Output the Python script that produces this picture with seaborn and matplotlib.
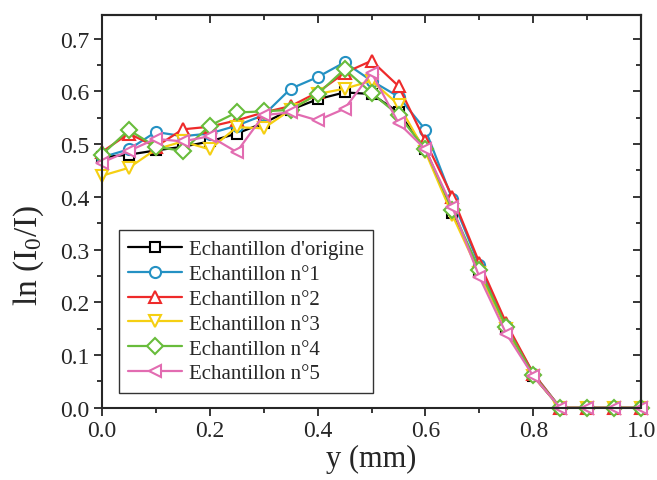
import numpy as np
import pandas as pd
import matplotlib
matplotlib.use('Agg')
import matplotlib.pyplot as plt
import seaborn as sns

# Position y (mm)
y_mm = [0.0, 0.05, 0.1, 0.15, 0.2, 0.25, 0.3, 0.35, 0.4, 0.45, 0.5,
        0.55, 0.6, 0.65, 0.7, 0.75, 0.8, 0.85, 0.9, 0.95, 1.0]

# ln(I0/I) for each sample
origine = [0.475, 0.480, 0.488, 0.495, 0.505, 0.520, 0.540, 0.565, 0.585, 0.598, 0.595,
           0.560, 0.490, 0.370, 0.260, 0.150, 0.060, 0.0, 0.0, 0.0, 0.0]
n1 = [0.475, 0.490, 0.523, 0.515, 0.520, 0.535, 0.555, 0.605, 0.627, 0.655, 0.620,
      0.590, 0.527, 0.395, 0.270, 0.155, 0.065, 0.0, 0.0, 0.0, 0.0]
n2 = [0.485, 0.520, 0.495, 0.528, 0.533, 0.545, 0.560, 0.572, 0.598, 0.635, 0.658,
      0.610, 0.505, 0.400, 0.275, 0.160, 0.065, 0.0, 0.0, 0.0, 0.0]
n3 = [0.440, 0.455, 0.490, 0.505, 0.490, 0.532, 0.530, 0.565, 0.595, 0.605, 0.620,
      0.575, 0.485, 0.365, 0.255, 0.150, 0.060, 0.0, 0.0, 0.0, 0.0]
n4 = [0.480, 0.527, 0.495, 0.487, 0.535, 0.560, 0.562, 0.565, 0.595, 0.642, 0.597,
      0.555, 0.490, 0.375, 0.262, 0.153, 0.062, 0.0, 0.0, 0.0, 0.0]
n5 = [0.465, 0.487, 0.510, 0.505, 0.515, 0.485, 0.555, 0.560, 0.545, 0.567, 0.635,
      0.540, 0.490, 0.380, 0.248, 0.140, 0.060, 0.0, 0.0, 0.0, 0.0]

labels = ["Echantillon d'origine", "Echantillon n°1", "Echantillon n°2",
          "Echantillon n°3", "Echantillon n°4", "Echantillon n°5"]
series = [origine, n1, n2, n3, n4, n5]
colors = ['#000000', '#2491c3', '#ee2a2a', '#f5cf12', '#68bc3b', '#e26cb1']
markers = ['s', 'o', '^', 'v', 'D', '<']
sizes = [7, 8, 9, 9, 8, 9]

sns.set_style('ticks')
plt.rcParams['font.family'] = ['Liberation Serif', 'DejaVu Serif']
plt.rcParams['mathtext.fontset'] = 'custom'
plt.rcParams['mathtext.rm'] = 'Liberation Serif'
plt.rcParams['mathtext.it'] = 'Liberation Serif:italic'

fig = plt.figure(figsize=(6.57, 4.81), dpi=100)
ax = fig.add_axes([0.155, 0.150, 0.821, 0.817])

for lab, vals, col, mk, ms in zip(labels, series, colors, markers, sizes):
    df = pd.DataFrame({'y': y_mm, 'v': vals})
    sns.lineplot(data=df, x='y', y='v', ax=ax, color=col, marker=mk, markersize=ms,
                 markerfacecolor='white', markeredgecolor=col, markeredgewidth=1.5,
                 linewidth=1.6, label=lab, clip_on=False)

ax.set_xlim(0, 1.0)
ax.set_ylim(0, 0.745)
ax.set_xticks(np.arange(0, 1.01, 0.2))
ax.set_xticks(np.arange(0.1, 1.0, 0.2), minor=True)
ax.set_yticks(np.arange(0, 0.71, 0.1))
ax.set_yticks(np.arange(0.05, 0.75, 0.1), minor=True)
ax.set_xticklabels([f'{v:.1f}' for v in np.arange(0, 1.01, 0.2)])
ax.set_yticklabels([f'{v:.1f}' for v in np.arange(0, 0.71, 0.1)])
ax.tick_params(which='major', direction='out', length=6, width=1.3, labelsize=17, pad=3)
ax.tick_params(which='minor', direction='out', length=3.5, width=1.3)

for sp in ax.spines.values():
    sp.set_linewidth(1.5)
    sp.set_visible(True)

top = ax.secondary_xaxis('top')
top.set_xticks(np.arange(0, 1.01, 0.2))
top.set_xticks(np.arange(0.1, 1.0, 0.2), minor=True)
top.tick_params(which='major', direction='in', length=6, width=1.3, labeltop=False)
top.tick_params(which='minor', direction='in', length=3.5, width=1.3)
right = ax.secondary_yaxis('right')
right.set_yticks(np.arange(0, 0.71, 0.1))
right.set_yticks(np.arange(0.05, 0.75, 0.1), minor=True)
right.tick_params(which='major', direction='in', length=6, width=1.3, labelright=False)
right.tick_params(which='minor', direction='in', length=3.5, width=1.3)
top.spines['top'].set_linewidth(1.5)
right.spines['right'].set_linewidth(1.5)

ax.set_xlabel('y (mm)', fontsize=22, labelpad=2)
ax.set_ylabel(r'ln (I$_0$/I)', fontsize=24)
ax.yaxis.set_label_coords(-0.104, 0.39)

leg = ax.legend(loc='lower left', bbox_to_anchor=(0.012, 0.012), fontsize=15,
                frameon=True, fancybox=False, edgecolor='#333333', framealpha=1,
                handlelength=2.6, labelspacing=0.25, borderpad=0.45, handletextpad=0.3)
leg.get_frame().set_linewidth(1.0)

fig.savefig('out.png', dpi=100)
